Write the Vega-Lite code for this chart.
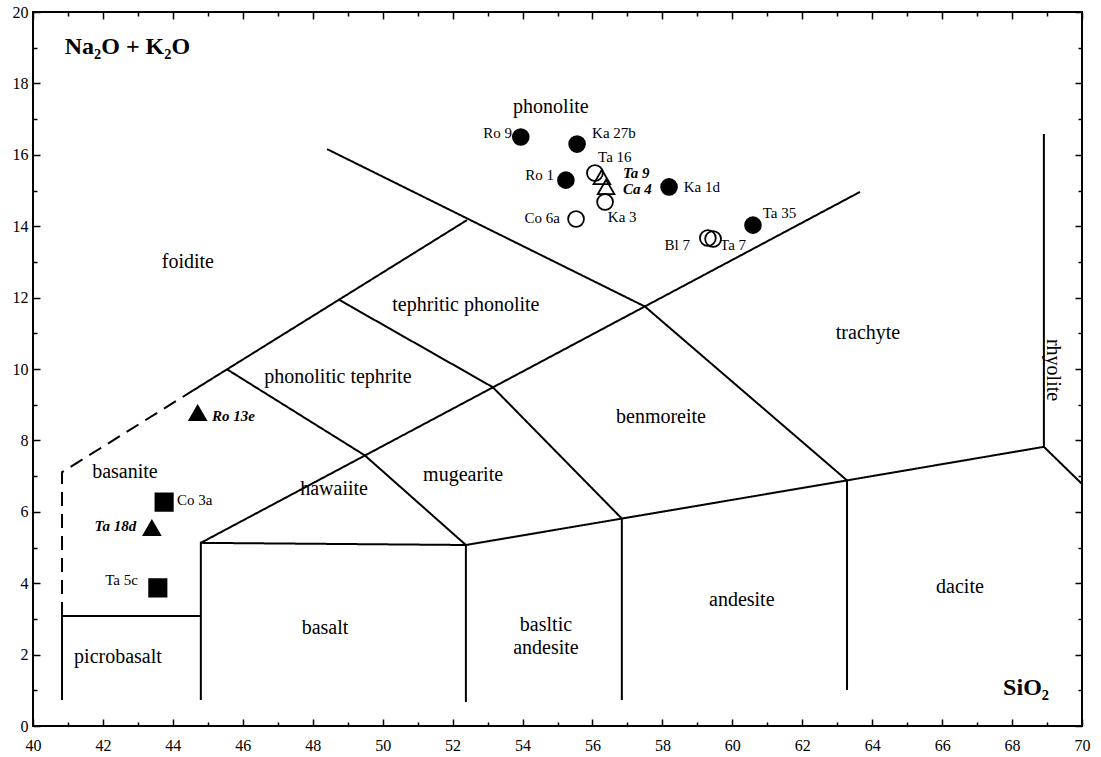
{
  "$schema": "https://vega.github.io/schema/vega-lite/v6.json",
  "width": 1049,
  "height": 714,
  "autosize": {"type": "none"},
  "padding": {"left": 33, "top": 12, "right": 19, "bottom": 31},
  "background": "white",
  "config": {
    "view": {"stroke": "black", "strokeWidth": 2},
    "font": "Liberation Serif",
    "axis": {"grid": false, "domain": false, "tickColor": "black", "tickWidth": 1.5, "labelColor": "black", "labelFont": "Liberation Serif", "labelFontSize": 16, "labelOverlap": false, "labelFlush": false, "labelBound": false}
  },
  "datasets": {
    "lines": [
      {"seg": "s1", "ord": 1, "x": 40.83, "y": 3.08, "style": "dashed"},
      {"seg": "s1", "ord": 2, "x": 40.83, "y": 7.11, "style": "dashed"},
      {"seg": "s1", "ord": 3, "x": 44.58, "y": 9.40, "style": "dashed"},
      {"seg": "s2", "ord": 1, "x": 40.83, "y": 0.73, "style": "solid"},
      {"seg": "s2", "ord": 2, "x": 40.83, "y": 3.08, "style": "solid"},
      {"seg": "s2", "ord": 3, "x": 44.80, "y": 3.08, "style": "solid"},
      {"seg": "s3", "ord": 1, "x": 44.80, "y": 0.73, "style": "solid"},
      {"seg": "s3", "ord": 2, "x": 44.80, "y": 5.13, "style": "solid"},
      {"seg": "s3", "ord": 3, "x": 52.38, "y": 5.07, "style": "solid"},
      {"seg": "s3", "ord": 4, "x": 52.38, "y": 0.67, "style": "solid"},
      {"seg": "s4", "ord": 1, "x": 44.58, "y": 9.40, "style": "solid"},
      {"seg": "s4", "ord": 2, "x": 52.41, "y": 14.17, "style": "solid"},
      {"seg": "s5", "ord": 1, "x": 44.80, "y": 5.13, "style": "solid"},
      {"seg": "s5", "ord": 2, "x": 63.65, "y": 14.96, "style": "solid"},
      {"seg": "s6", "ord": 1, "x": 45.55, "y": 9.99, "style": "solid"},
      {"seg": "s6", "ord": 2, "x": 49.49, "y": 7.58, "style": "solid"},
      {"seg": "s6", "ord": 3, "x": 52.38, "y": 5.07, "style": "solid"},
      {"seg": "s7", "ord": 1, "x": 48.75, "y": 11.94, "style": "solid"},
      {"seg": "s7", "ord": 2, "x": 53.15, "y": 9.49, "style": "solid"},
      {"seg": "s7", "ord": 3, "x": 56.84, "y": 5.81, "style": "solid"},
      {"seg": "s7", "ord": 4, "x": 56.84, "y": 0.73, "style": "solid"},
      {"seg": "s8", "ord": 1, "x": 48.41, "y": 16.16, "style": "solid"},
      {"seg": "s8", "ord": 2, "x": 57.50, "y": 11.75, "style": "solid"},
      {"seg": "s8", "ord": 3, "x": 63.28, "y": 6.88, "style": "solid"},
      {"seg": "s8", "ord": 4, "x": 63.28, "y": 1.01, "style": "solid"},
      {"seg": "s9", "ord": 1, "x": 52.38, "y": 5.07, "style": "solid"},
      {"seg": "s9", "ord": 2, "x": 56.84, "y": 5.81, "style": "solid"},
      {"seg": "s9", "ord": 3, "x": 63.28, "y": 6.88, "style": "solid"},
      {"seg": "s9", "ord": 4, "x": 68.91, "y": 7.82, "style": "solid"},
      {"seg": "s9", "ord": 5, "x": 70.00, "y": 6.78, "style": "solid"},
      {"seg": "s10", "ord": 1, "x": 68.91, "y": 7.82, "style": "solid"},
      {"seg": "s10", "ord": 2, "x": 68.91, "y": 16.58, "style": "solid"}
    ],
    "samples": [
      {"name": "Ro 9", "sio2": 53.95, "alk": 16.50, "symbol": "circle", "fill": "filled", "lx": 53.70, "ly": 16.60, "side": "right"},
      {"name": "Ka 27b", "sio2": 55.56, "alk": 16.30, "symbol": "circle", "fill": "filled", "lx": 55.99, "ly": 16.62, "side": "left"},
      {"name": "Ta 16", "sio2": 56.07, "alk": 15.49, "symbol": "circle", "fill": "open", "lx": 56.16, "ly": 15.93, "side": "left"},
      {"name": "Ro 1", "sio2": 55.24, "alk": 15.29, "symbol": "circle", "fill": "filled", "lx": 54.90, "ly": 15.43, "side": "right"},
      {"name": "Ta 9", "sio2": 56.27, "alk": 15.38, "symbol": "triangle", "fill": "open", "lx": 56.87, "ly": 15.49, "side": "left"},
      {"name": "Ca 4", "sio2": 56.39, "alk": 15.10, "symbol": "triangle", "fill": "open", "lx": 56.87, "ly": 15.03, "side": "left"},
      {"name": "Ka 3", "sio2": 56.36, "alk": 14.68, "symbol": "circle", "fill": "open", "lx": 56.44, "ly": 14.26, "side": "left"},
      {"name": "Ka 1d", "sio2": 58.19, "alk": 15.10, "symbol": "circle", "fill": "filled", "lx": 58.61, "ly": 15.10, "side": "left"},
      {"name": "Co 6a", "sio2": 55.53, "alk": 14.20, "symbol": "circle", "fill": "open", "lx": 55.07, "ly": 14.23, "side": "right"},
      {"name": "Ta 35", "sio2": 60.59, "alk": 14.03, "symbol": "circle", "fill": "filled", "lx": 60.87, "ly": 14.37, "side": "left"},
      {"name": "Bl 7", "sio2": 59.30, "alk": 13.67, "symbol": "circle", "fill": "open", "lx": 58.79, "ly": 13.47, "side": "right"},
      {"name": "Ta 7", "sio2": 59.45, "alk": 13.64, "symbol": "circle", "fill": "open", "lx": 59.65, "ly": 13.47, "side": "left"},
      {"name": "Ro 13e", "sio2": 44.71, "alk": 8.77, "symbol": "triangle", "fill": "filled", "lx": 45.12, "ly": 8.68, "side": "left"},
      {"name": "Co 3a", "sio2": 43.75, "alk": 6.27, "symbol": "square", "fill": "filled", "lx": 44.12, "ly": 6.33, "side": "left"},
      {"name": "Ta 18d", "sio2": 43.40, "alk": 5.55, "symbol": "triangle", "fill": "filled", "lx": 42.95, "ly": 5.60, "side": "right"},
      {"name": "Ta 5c", "sio2": 43.57, "alk": 3.87, "symbol": "square", "fill": "filled", "lx": 43.00, "ly": 4.09, "side": "right"}
    ],
    "regions": [
      {"name": "phonolite", "x": 54.81, "y": 17.34},
      {"name": "foidite", "x": 44.43, "y": 13.00},
      {"name": "tephritic phonolite", "x": 52.38, "y": 11.79},
      {"name": "phonolitic tephrite", "x": 48.72, "y": 9.78},
      {"name": "trachyte", "x": 63.88, "y": 11.01},
      {"name": "benmoreite", "x": 57.96, "y": 8.66},
      {"name": "mugearite", "x": 52.30, "y": 7.03},
      {"name": "basanite", "x": 42.63, "y": 7.11},
      {"name": "hawaiite", "x": 48.61, "y": 6.64},
      {"name": "basalt", "x": 48.35, "y": 2.75},
      {"name": "picrobasalt", "x": 42.43, "y": 1.93},
      {"name": "basltic\nandesite", "x": 54.67, "y": 2.83},
      {"name": "andesite", "x": 60.27, "y": 3.53},
      {"name": "dacite", "x": 66.51, "y": 3.89},
      {"name": "rhyolite", "x": 69.17, "y": 9.97}
    ],
    "titles": [
      {"t": "Na₂O + K₂O", "x": 42.70, "y": 19.02},
      {"t": "SiO₂", "x": 68.40, "y": 1.06}
    ]
  },
  "layer": [
    {
      "data": {"name": "lines"},
      "mark": {"type": "line", "color": "black", "strokeWidth": 2},
      "encoding": {
        "x": {"field": "x", "type": "quantitative", "scale": {"domain": [40, 70], "nice": false, "zero": false},
          "axis": {"orient": "bottom", "title": null, "values": [40,41,42,43,44,45,46,47,48,49,50,51,52,53,54,55,56,57,58,59,60,61,62,63,64,65,66,67,68,69,70],
            "labelExpr": "datum.value % 2 === 0 ? datum.label : ''",
            "tickSize": {"condition": {"test": "datum.value % 2 === 0", "value": -7}, "value": -4},
            "labelPadding": 18}},
        "y": {"field": "y", "type": "quantitative", "scale": {"domain": [0, 20], "nice": false, "zero": false},
          "axis": {"orient": "left", "title": null, "values": [0,1,2,3,4,5,6,7,8,9,10,11,12,13,14,15,16,17,18,19,20],
            "labelExpr": "datum.value % 2 === 0 ? datum.label : ''",
            "tickSize": {"condition": {"test": "datum.value % 2 === 0", "value": -7}, "value": -4},
            "labelPadding": 12}},
        "detail": {"field": "seg"},
        "order": {"field": "ord"},
        "strokeDash": {"field": "style", "type": "nominal", "scale": {"domain": ["solid", "dashed"], "range": [[1, 0], [14, 8]]}, "legend": null}
      }
    },
    {
      "data": {"name": "samples"},
      "mark": {"type": "point", "filled": true, "stroke": "black", "strokeWidth": 1.8, "opacity": 1},
      "encoding": {
        "x": {"field": "sio2", "type": "quantitative",
          "axis": {"orient": "top", "title": null, "labels": false, "values": [40,41,42,43,44,45,46,47,48,49,50,51,52,53,54,55,56,57,58,59,60,61,62,63,64,65,66,67,68,69,70],
            "tickSize": {"condition": {"test": "datum.value % 2 === 0", "value": -7}, "value": -4}}},
        "y": {"field": "alk", "type": "quantitative",
          "axis": {"orient": "right", "title": null, "labels": false, "values": [0,1,2,3,4,5,6,7,8,9,10,11,12,13,14,15,16,17,18,19,20],
            "tickSize": {"condition": {"test": "datum.value % 2 === 0", "value": -7}, "value": -4}}},
        "shape": {"field": "symbol", "type": "nominal", "scale": {"domain": ["circle", "triangle", "square"], "range": ["circle", "triangle-up", "square"]}, "legend": null},
        "fill": {"field": "fill", "type": "nominal", "scale": {"domain": ["filled", "open"], "range": ["black", "transparent"]}, "legend": null},
        "size": {"field": "symbol", "type": "nominal", "scale": {"domain": ["circle", "triangle", "square"], "range": [250, 300, 300]}, "legend": null}
      }
    },
    {
      "data": {"name": "samples"},
      "transform": [{"filter": "datum.side === 'right' && datum.symbol !== 'triangle'"}],
      "mark": {"type": "text", "align": "right", "baseline": "middle", "fontSize": 15, "font": "Liberation Serif", "color": "black"},
      "encoding": {
        "x": {"field": "lx", "type": "quantitative", "axis": null},
        "y": {"field": "ly", "type": "quantitative", "axis": null},
        "text": {"field": "name"}
      }
    },
    {
      "data": {"name": "samples"},
      "transform": [{"filter": "datum.side === 'left' && datum.symbol !== 'triangle'"}],
      "mark": {"type": "text", "align": "left", "baseline": "middle", "fontSize": 15, "font": "Liberation Serif", "color": "black"},
      "encoding": {
        "x": {"field": "lx", "type": "quantitative", "axis": null},
        "y": {"field": "ly", "type": "quantitative", "axis": null},
        "text": {"field": "name"}
      }
    },
    {
      "data": {"name": "samples"},
      "transform": [{"filter": "datum.side === 'right' && datum.symbol === 'triangle'"}],
      "mark": {"type": "text", "align": "right", "baseline": "middle", "fontSize": 15, "font": "Liberation Serif", "fontStyle": "italic", "fontWeight": "bold", "color": "black"},
      "encoding": {
        "x": {"field": "lx", "type": "quantitative", "axis": null},
        "y": {"field": "ly", "type": "quantitative", "axis": null},
        "text": {"field": "name"}
      }
    },
    {
      "data": {"name": "samples"},
      "transform": [{"filter": "datum.side === 'left' && datum.symbol === 'triangle'"}],
      "mark": {"type": "text", "align": "left", "baseline": "middle", "fontSize": 15, "font": "Liberation Serif", "fontStyle": "italic", "fontWeight": "bold", "color": "black"},
      "encoding": {
        "x": {"field": "lx", "type": "quantitative", "axis": null},
        "y": {"field": "ly", "type": "quantitative", "axis": null},
        "text": {"field": "name"}
      }
    },
    {
      "data": {"name": "regions"},
      "transform": [{"filter": "datum.name !== 'rhyolite'"}],
      "mark": {"type": "text", "align": "center", "baseline": "middle", "fontSize": 20, "font": "Liberation Serif", "color": "black", "lineBreak": "\n", "lineHeight": 23},
      "encoding": {
        "x": {"field": "x", "type": "quantitative", "axis": null},
        "y": {"field": "y", "type": "quantitative", "axis": null},
        "text": {"field": "name"}
      }
    },
    {
      "data": {"name": "regions"},
      "transform": [{"filter": "datum.name === 'rhyolite'"}],
      "mark": {"type": "text", "align": "center", "baseline": "middle", "fontSize": 20, "font": "Liberation Serif", "color": "black", "angle": 90},
      "encoding": {
        "x": {"field": "x", "type": "quantitative", "axis": null},
        "y": {"field": "y", "type": "quantitative", "axis": null},
        "text": {"field": "name"}
      }
    },
    {
      "data": {"name": "titles"},
      "mark": {"type": "text", "align": "center", "baseline": "middle", "fontSize": 24, "font": "Liberation Serif", "fontWeight": "bold", "color": "black"},
      "encoding": {
        "x": {"field": "x", "type": "quantitative", "axis": null},
        "y": {"field": "y", "type": "quantitative", "axis": null},
        "text": {"field": "t"}
      }
    }
  ],
  "resolve": {"axis": {"x": "independent", "y": "independent"}}
}
